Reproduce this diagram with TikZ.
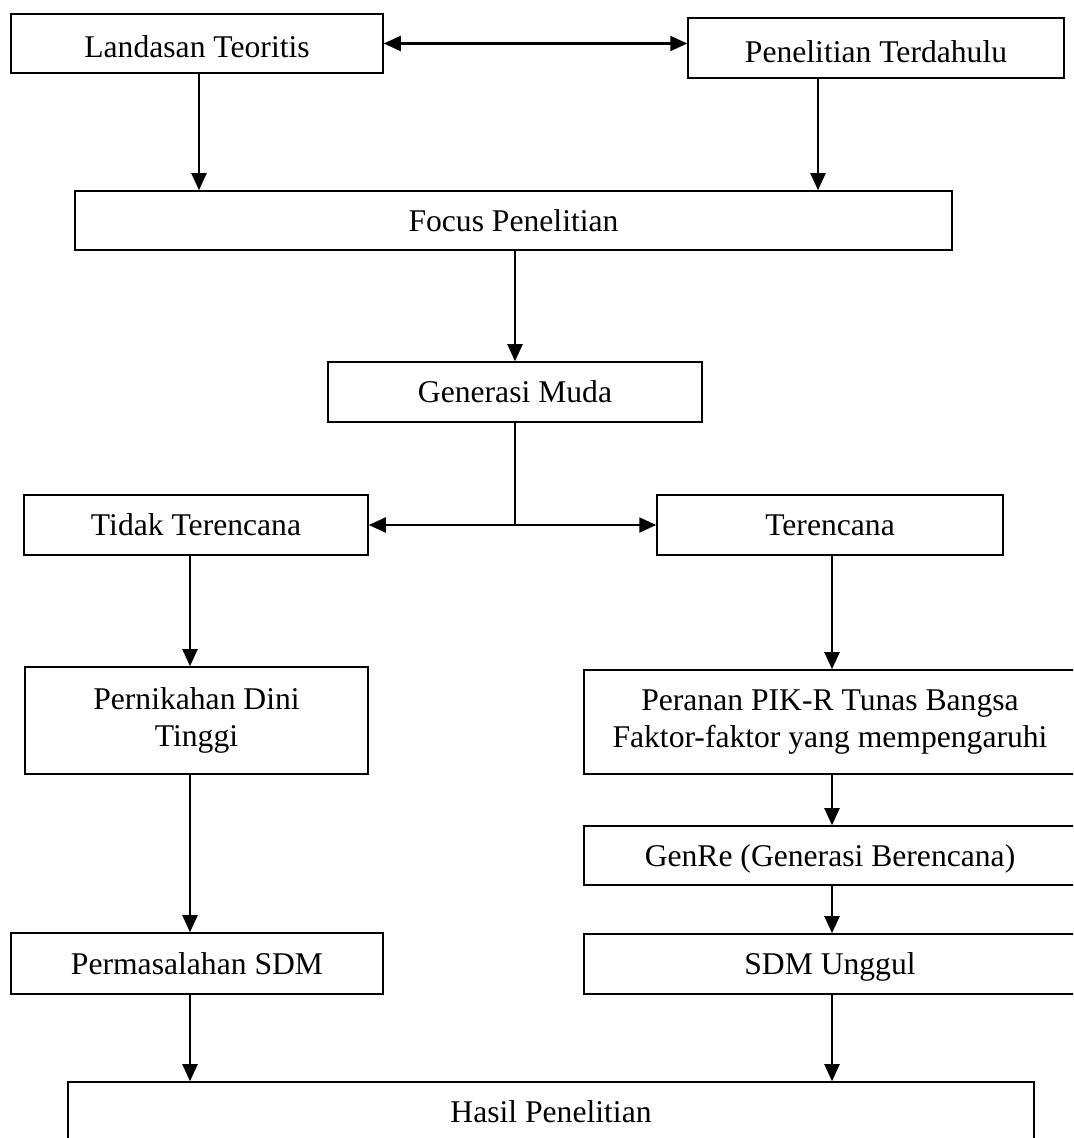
\documentclass[tikz,border=0pt]{standalone}
\usepackage{fontspec}
\setmainfont{Liberation Serif}
\usetikzlibrary{arrows.meta}
\tikzset{
  kotak/.style={draw, line width=0.9pt, inner sep=0pt, align=center, font=\fontsize{18}{20.8}\selectfont},
  satubaris/.style={text height=12pt, text depth=0pt},
  panah/.style={-{Triangle[length=0.34cm,width=0.3cm]}, line width=1.2pt},
  panahdua/.style={{Triangle[length=0.34cm,width=0.3cm]}-{Triangle[length=0.34cm,width=0.3cm]}, line width=1.2pt}
}

\begin{document}
\begin{tikzpicture}[x=0.02cm, y=-0.02cm]
\useasboundingbox (0,0) rectangle (1073,1138);
\clip (0,0) rectangle (1073,1138);
%
\node[kotak, satubaris, text height=16.5pt, minimum width=7.44cm, minimum height=1.18cm] (land) at (197,43.5) {Landasan Teoritis};
\node[kotak, satubaris, text height=16.5pt, minimum width=7.52cm, minimum height=1.2cm] (pen) at (876,48) {Penelitian Terdahulu};
\node[kotak, satubaris, minimum width=17.54cm, minimum height=1.18cm] (focus) at (513.5,220.5) {Focus Penelitian};
\node[kotak, satubaris, minimum width=7.48cm, minimum height=1.2cm] (gen) at (515,392) {Generasi Muda};
%
\node[kotak, satubaris, minimum width=6.88cm, minimum height=1.2cm] (tidak) at (196,525) {Tidak Terencana};
\node[kotak, satubaris, minimum width=6.92cm, minimum height=1.2cm] (ter) at (830,525) {Terencana};
%
\node[kotak, minimum width=6.86cm, minimum height=2.14cm] (nikah) at (196.5,720.5) {Pernikahan Dini\\Tinggi};
\node[kotak, satubaris, minimum width=7.44cm, minimum height=1.22cm] (masalah) at (197,963.5) {Permasalahan SDM};
%
\node[kotak, minimum width=9.84cm, minimum height=2.08cm] (peran) at (830,722) {Peranan PIK-R Tunas Bangsa\\Faktor-faktor yang mempengaruhi};
\node[kotak, satubaris, minimum width=9.84cm, minimum height=1.18cm] (genre) at (830,855.5) {GenRe (Generasi Berencana)};
\node[kotak, satubaris, minimum width=9.84cm, minimum height=1.2cm] (unggul) at (830,964) {SDM Unggul};
%
\node[kotak, satubaris, minimum width=19.32cm, minimum height=1.2cm] (hasil) at (551,1112) {Hasil Penelitian};
%
\coordinate (kiriatas) at (199,0);
\coordinate (kananatas) at (818,0);
\coordinate (kiri) at (190,0);
\coordinate (kanan) at (832,0);
\coordinate (cabang) at (gen.south |- tidak.east);
%
\draw[panahdua] (land.east) -- (land.east -| pen.west);
\draw[panah] (kiriatas |- land.south) -- (kiriatas |- focus.north);
\draw[panah] (kananatas |- pen.south) -- (kananatas |- focus.north);
\draw[panah] (focus.south -| gen.north) -- (gen.north);
%
\draw[line width=1.2pt] (gen.south) -- (cabang);
\draw[panah] (cabang) -- (tidak.east);
\draw[panah] (cabang) -- (ter.west);
%
\draw[panah] (kiri |- tidak.south) -- (kiri |- nikah.north);
\draw[panah] (kiri |- nikah.south) -- (kiri |- masalah.north);
\draw[panah] (kiri |- masalah.south) -- (kiri |- hasil.north);
%
\draw[panah] (kanan |- ter.south) -- (kanan |- peran.north);
\draw[panah] (kanan |- peran.south) -- (kanan |- genre.north);
\draw[panah] (kanan |- genre.south) -- (kanan |- unggul.north);
\draw[panah] (kanan |- unggul.south) -- (kanan |- hasil.north);
\end{tikzpicture}
\end{document}
